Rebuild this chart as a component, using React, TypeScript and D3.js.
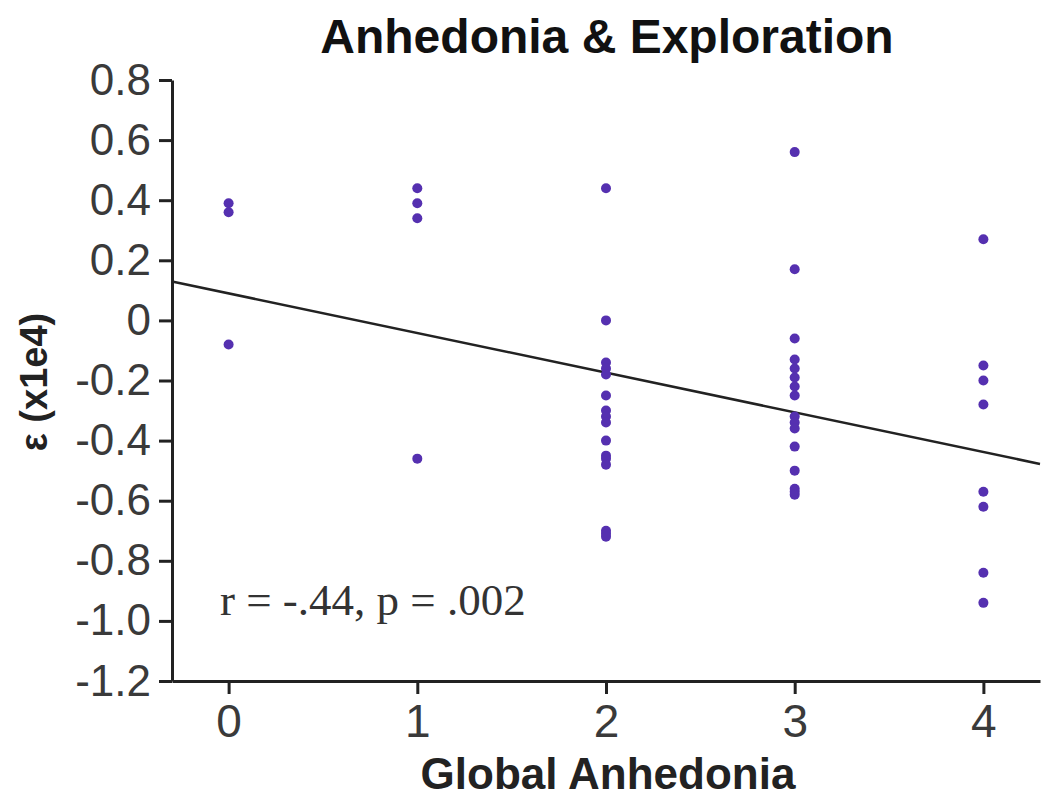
import React, { useEffect, useRef } from 'react';
import * as d3 from 'd3';

// Global anhedonia score (x) and exploration parameter epsilon (x1e4) (y)
const anhedonia = [
  0, 0, 0,
  1, 1, 1, 1,
  2, 2, 2, 2, 2, 2, 2, 2, 2, 2, 2, 2, 2, 2, 2, 2,
  3, 3, 3, 3, 3, 3, 3, 3, 3, 3, 3, 3, 3, 3, 3, 3,
  4, 4, 4, 4, 4, 4, 4, 4,
];
const epsilon = [
  0.39, 0.36, -0.08,
  0.44, 0.39, 0.34, -0.46,
  0.44, 0.0, -0.14, -0.16, -0.18, -0.25, -0.30, -0.32, -0.34, -0.40, -0.45, -0.46, -0.48, -0.70, -0.71, -0.72,
  0.56, 0.17, -0.06, -0.13, -0.16, -0.19, -0.22, -0.25, -0.32, -0.34, -0.36, -0.42, -0.50, -0.56, -0.57, -0.58,
  0.27, -0.15, -0.20, -0.28, -0.57, -0.62, -0.84, -0.94,
];
// fitted regression line: intercept, slope
const fit = [0.09, -0.132];
const yTicks = [0.8, 0.6, 0.4, 0.2, 0, -0.2, -0.4, -0.6, -0.8, -1.0, -1.2];
const yTickLabels = ['0.8', '0.6', '0.4', '0.2', '0', '-0.2', '-0.4', '-0.6', '-0.8', '-1.0', '-1.2'];
const xTicks = [0, 1, 2, 3, 4];

const W = 1050;
const H = 802;
const SANS = 'Arial, "Liberation Sans", sans-serif';

const App = () => {
  const svgRef = useRef<SVGSVGElement>(null);

  useEffect(() => {
    const svg = d3.select(svgRef.current);
    svg.selectAll('*').remove();

    const margin = { top: 80, right: 10, bottom: 121, left: 172 };
    const x = d3.scaleLinear().domain([-0.3, 4.3]).range([margin.left, W - margin.right]);
    const y = d3.scaleLinear().domain([-1.2, 0.8]).range([H - margin.bottom, margin.top]);

    const g = svg.append('g');

    // x axis
    const xAxis = g.append('g')
      .attr('transform', `translate(0,${y(-1.2)})`)
      .call(d3.axisBottom(x).tickValues(xTicks).tickSize(13).tickSizeOuter(0).tickPadding(10).tickFormat(d3.format('d')));
    xAxis.select('.domain').attr('stroke', '#222').attr('stroke-width', 3);
    xAxis.selectAll('.tick line').attr('stroke', '#222').attr('stroke-width', 3);
    xAxis.selectAll('.tick text')
      .attr('font-family', SANS)
      .attr('font-size', 46).attr('fill', '#3a3a3a');

    // y axis
    const yAxis = g.append('g')
      .attr('transform', `translate(${x(-0.3)},0)`)
      .call(d3.axisLeft(y).tickValues(yTicks).tickSize(13).tickSizeOuter(0).tickPadding(8)
        .tickFormat((d, i) => yTickLabels[i]));
    yAxis.select('.domain').attr('stroke', '#222').attr('stroke-width', 3);
    yAxis.selectAll('.tick line').attr('stroke', '#222').attr('stroke-width', 3);
    yAxis.selectAll('.tick text')
      .attr('font-family', SANS)
      .attr('font-size', 44).attr('fill', '#3a3a3a');

    // regression line
    const xs = x.domain();
    g.append('line')
      .attr('x1', x(xs[0])).attr('y1', y(fit[0] + fit[1] * xs[0]))
      .attr('x2', x(xs[1])).attr('y2', y(fit[0] + fit[1] * xs[1]))
      .attr('stroke', '#222').attr('stroke-width', 2.5);

    // points
    g.selectAll('circle.pt')
      .data(anhedonia.map((a, i) => ({ a, e: epsilon[i] })))
      .enter().append('circle')
      .attr('class', 'pt')
      .attr('cx', d => x(d.a))
      .attr('cy', d => y(d.e))
      .attr('r', 5)
      .attr('fill', '#5530b0');

    // title
    svg.append('text')
      .attr('x', 607).attr('y', 53)
      .attr('text-anchor', 'middle')
      .attr('font-family', SANS)
      .attr('font-weight', 'bold').attr('font-size', 48).attr('fill', '#111')
      .text('Anhedonia & Exploration');

    // x label
    svg.append('text')
      .attr('x', 608).attr('y', 789)
      .attr('text-anchor', 'middle')
      .attr('font-family', SANS)
      .attr('font-weight', 'bold').attr('font-size', 44).attr('fill', '#222')
      .text('Global Anhedonia');

    // y label
    svg.append('text')
      .attr('transform', `translate(47,382) rotate(-90)`)
      .attr('text-anchor', 'middle')
      .attr('font-family', SANS)
      .attr('font-weight', 'bold').attr('font-size', 38).attr('fill', '#222')
      .text('\u03b5 (x1e4)');

    // stats annotation
    svg.append('text')
      .attr('x', 220).attr('y', 615)
      .attr('font-family', '"Liberation Serif", "Times New Roman", serif')
      .attr('font-size', 45).attr('fill', '#333')
      .text('r = -.44, p = .002');
  }, []);

  return (
    <div style={{ margin: -8 }}>
      <svg ref={svgRef} width={W} height={H} style={{ display: 'block', background: '#fff' }} />
    </div>
  );
};

export default App;
